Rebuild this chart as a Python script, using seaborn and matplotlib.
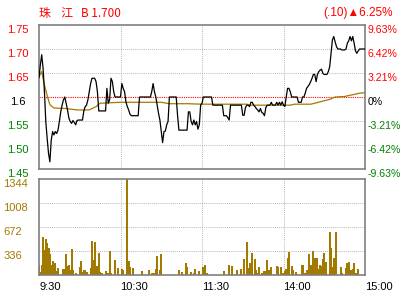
import numpy as np
import pandas as pd
import matplotlib
matplotlib.use("Agg")
import matplotlib.pyplot as plt
import seaborn as sns

# ---------------- data ----------------
title_left = "珠    江   B 1.700"
title_right = "(.10)▲6.25%"
prev_close = 1.60

price = [
    1.640, 1.667, 1.688, 1.660, 1.611, 1.549, 1.514, 1.483, 1.465, 1.510,
    1.528, 1.521, 1.528, 1.524, 1.531, 1.549, 1.569, 1.583, 1.594, 1.600,
    1.587, 1.573, 1.556, 1.549, 1.545, 1.551, 1.547, 1.542, 1.551, 1.552,
    1.552, 1.552, 1.552, 1.571, 1.580, 1.583, 1.594, 1.611, 1.628, 1.639,
    1.639, 1.639, 1.632, 1.611, 1.571, 1.571, 1.571, 1.571, 1.571, 1.571,
    1.618, 1.587, 1.594, 1.639, 1.632, 1.611, 1.600, 1.600, 1.600, 1.600,
    1.600, 1.628, 1.618, 1.611, 1.590, 1.580, 1.573, 1.564, 1.561, 1.561,
    1.561, 1.561, 1.561, 1.561, 1.600, 1.600, 1.600, 1.600, 1.600, 1.600,
    1.600, 1.600, 1.600, 1.611, 1.628, 1.611, 1.600, 1.583, 1.566, 1.552,
    1.529, 1.505, 1.528, 1.529, 1.542, 1.549, 1.600, 1.600, 1.600, 1.600,
    1.600, 1.600, 1.562, 1.531, 1.531, 1.531, 1.531, 1.531, 1.531, 1.531,
    1.569, 1.569, 1.549, 1.542, 1.552, 1.542, 1.549, 1.533, 1.542, 1.583,
    1.587, 1.600, 1.600, 1.600, 1.600, 1.600, 1.600, 1.600, 1.583, 1.583,
    1.583, 1.583, 1.583, 1.583, 1.583, 1.583, 1.561, 1.561, 1.561, 1.557,
    1.552, 1.583, 1.583, 1.583, 1.583, 1.583, 1.583, 1.583, 1.583, 1.583,
    1.562, 1.562, 1.578, 1.583, 1.583, 1.580, 1.589, 1.589, 1.583, 1.580,
    1.576, 1.573, 1.569, 1.576, 1.568, 1.566, 1.561, 1.578, 1.583, 1.583,
    1.583, 1.589, 1.583, 1.583, 1.583, 1.589, 1.583, 1.589, 1.583, 1.590,
    1.583, 1.580, 1.600, 1.618, 1.618, 1.611, 1.600, 1.600, 1.600, 1.600,
    1.600, 1.589, 1.589, 1.589, 1.600, 1.600, 1.608, 1.618, 1.622, 1.626,
    1.632, 1.639, 1.647, 1.647, 1.632, 1.647, 1.653, 1.656, 1.658, 1.649,
    1.647, 1.647, 1.647, 1.653, 1.663, 1.690, 1.719, 1.726, 1.715, 1.705,
    1.700, 1.700, 1.700, 1.698, 1.698, 1.698, 1.700, 1.712, 1.717, 1.726,
    1.717, 1.726, 1.712, 1.696, 1.691, 1.696, 1.700, 1.700, 1.700, 1.700,
    1.700,
]

avg_minute = [0, 2, 4, 6, 8, 11, 20, 28, 37, 42, 45, 60, 90, 96, 110, 120,
              153, 155, 185, 188, 200, 203, 207, 214, 218, 225, 228, 233, 236, 240]
avg_price = [1.642, 1.653, 1.625, 1.603, 1.584, 1.577, 1.576, 1.573, 1.573, 1.580,
             1.587, 1.589, 1.589, 1.586, 1.586, 1.585, 1.585, 1.583, 1.583, 1.585,
             1.585, 1.587, 1.590, 1.595, 1.600, 1.601, 1.603, 1.606, 1.608, 1.609]

vol_minute = [0, 1, 2, 3, 4, 5, 6, 7, 8, 9, 10, 11, 12, 13, 14,
              18, 19, 20, 21, 22, 23, 24, 25, 27, 30, 31, 32, 33, 34, 35,
              38, 39, 40, 41, 43, 44, 45, 46, 49, 51, 52, 53, 56, 58,
              61, 62, 65, 66, 67, 69, 76, 81, 83, 85, 86, 87, 89, 90,
              103, 105, 108, 109, 112, 114, 115, 118, 121, 122, 124,
              136, 140, 142, 146, 149, 151, 153, 154, 155, 156, 157, 159, 160, 161, 162, 164,
              166, 168, 169, 171, 175, 176, 178, 180, 181, 182, 183, 184, 186, 187, 189, 190,
              194, 196, 197, 198, 199, 200, 202, 203, 204, 205, 206, 207, 208, 209, 210, 211,
              214, 215, 216, 217, 219, 222, 223, 226, 227, 228, 229, 230, 231, 232, 233, 235]
vol_value = [140, 47, 140, 532, 359, 509, 453, 383, 299, 140, 196, 173, 173, 65, 103,
             93, 93, 299, 126, 140, 79, 369, 79, 33, 112, 196, 47, 70, 70, 47,
             103, 476, 215, 467, 126, 313, 47, 33, 56, 37, 336, 33, 215, 103,
             84, 75, 1344, 196, 112, 103, 56, 75, 33, 33, 84, 271, 75, 299,
             75, 47, 173, 117, 47, 37, 89, 65, 112, 140, 33,
             56, 140, 126, 75, 89, 229, 467, 103, 168, 75, 308, 229, 75, 28, 112, 33,
             61, 215, 75, 112, 126, 112, 121, 33, 65, 84, 238, 327, 131, 75, 42, 23,
             140, 33, 75, 47, 299, 140, 341, 243, 112, 243, 89, 140, 126, 229, 308, 187,
             607, 383, 112, 243, 607, 112, 28, 103, 173, 187, 65, 75, 93, 173, 33, 84]

price_ticks = [1.75, 1.70, 1.65, 1.60, 1.55, 1.50, 1.45]
price_labels = ["1.75", "1.70", "1.65", "1.6", "1.55", "1.50", "1.45"]
pct_labels = ["9.63%", "6.42%", "3.21%", "0%", "-3.21%", "-6.42%", "-9.63%"]
vol_ticks = [336, 672, 1008, 1344]
vol_labels = ["336", "672", "1008", "1344"]
time_ticks = [0, 60, 120, 180, 240]
time_labels = ["9:30", "10:30", "11:30", "14:00", "15:00"]

# ---------------- style ----------------
RED = "#FF0000"
GREEN = "#008000"
GOLD = "#A37A00"
GRID = "#BEBEBE"
SPINE = "#808080"

sns.set_style("white")
plt.rcParams["font.family"] = ["Liberation Sans", "DejaVu Sans"]
plt.rcParams["font.size"] = 8

minutes = np.arange(len(price))
df_price = pd.DataFrame({"minute": minutes, "price": price})
df_avg = pd.DataFrame({"minute": avg_minute, "avg": avg_price})
vol_full = np.zeros(len(price))
vol_full[np.array(vol_minute)] = vol_value
df_vol = pd.DataFrame({"minute": minutes, "vol": vol_full})

fig = plt.figure(figsize=(4, 3), dpi=100)
fig.patch.set_facecolor("white")
ax = fig.add_axes([39 / 400, 1 - 169 / 300, 326 / 400, 144 / 300])
axv = fig.add_axes([39 / 400, 1 - 275.3 / 300, 326 / 400, 96 / 300])

dot = (0, (1, 1))
for y in [1.70, 1.65, 1.55, 1.50]:
    ax.axhline(y, color=GRID, lw=0.75, ls=dot, zorder=0)
ax.axhline(prev_close, color=RED, lw=0.8, ls=dot, zorder=1)
for x in [60, 120, 180]:
    ax.axvline(x, color=GRID, lw=0.75, ls=dot, zorder=0)
    axv.axvline(x, color=GRID, lw=0.75, ls=dot, zorder=0)
for y in [336, 672, 1008]:
    axv.axhline(y, color=GRID, lw=0.75, ls=dot, zorder=0)

sns.lineplot(data=df_avg, x="minute", y="avg", ax=ax, color=GOLD, lw=0.9, zorder=2)
sns.lineplot(data=df_price, x="minute", y="price", ax=ax, color="black", lw=0.9, zorder=3)
sns.barplot(data=df_vol, x="minute", y="vol", ax=axv, native_scale=True,
            color=GOLD, saturation=1, width=1.5, linewidth=0, errorbar=None,
            antialiased=False, zorder=2)

ax.set_xlim(0, 240)
ax.set_ylim(1.45, 1.75)
axv.set_xlim(0, 240)
axv.set_ylim(0, 1344)

for a in (ax, axv):
    a.set_xlabel("")
    a.set_ylabel("")
    for s in a.spines.values():
        s.set_visible(True)
        s.set_color(SPINE)
        s.set_linewidth(1.2)

ax.set_xticks([])
ax.set_yticks(price_ticks)
ax.set_yticklabels(price_labels)
ax.tick_params(axis="y", length=0, pad=15.5)
lab_colors = [RED, RED, RED, "black", GREEN, GREEN, GREEN]
for t, c in zip(ax.get_yticklabels(), lab_colors):
    t.set_color(c)
    t.set_ha("center")
    t.set_va("top")

tw = ax.twinx()
tw.set_ylim(1.45, 1.75)
tw.set_yticks(price_ticks)
tw.set_yticklabels(pct_labels)
tw.tick_params(axis="y", length=0, pad=2.0, labelsize=7.6)
for s in tw.spines.values():
    s.set_visible(False)
for t, c in zip(tw.get_yticklabels(), lab_colors):
    t.set_color(c)
    t.set_va("top")

axv.set_yticks(vol_ticks)
axv.set_yticklabels(vol_labels)
axv.tick_params(axis="y", length=0, pad=25.5, colors=GOLD)
for t in axv.get_yticklabels():
    t.set_ha("left")
    t.set_va("top")
axv.set_xticks(time_ticks)
axv.set_xticklabels(time_labels)
axv.tick_params(axis="x", length=0, pad=5, colors="black")
for t in axv.get_xticklabels():
    t.set_ha("left")

fig.text(39 / 400, 1 - 13 / 300, title_left, color=RED, fontsize=8.5,
         family=["Noto Sans CJK SC", "DejaVu Sans"], ha="left", va="center")
fig.text(393 / 400, 1 - 13 / 300, title_right, color=RED, fontsize=8.5,
         family=["Liberation Sans", "DejaVu Sans"], ha="right", va="center")

fig.savefig("out.png", dpi=100, facecolor="white")
